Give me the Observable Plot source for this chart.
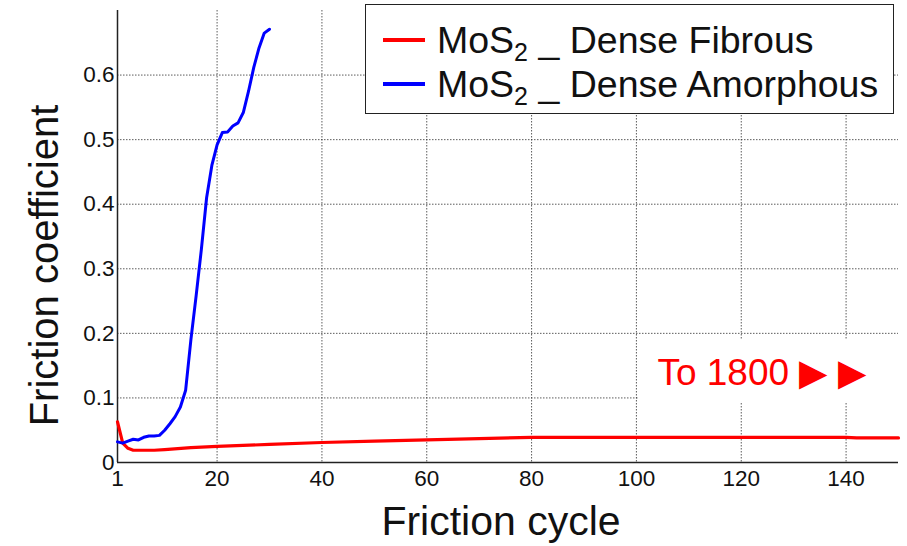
<!DOCTYPE html>
<html>
<head>
<meta charset="utf-8">
<script src="https://cdn.jsdelivr.net/npm/d3@7"></script>
<script src="https://cdn.jsdelivr.net/npm/@observablehq/plot@0.6"></script>
<style>
  html, body { margin: 0; padding: 0; background: white; }
  #wrap { position: relative; width: 907px; height: 546px; font-family: Arial, "Liberation Sans", sans-serif; }
  #legend { position: absolute; left: 365px; top: 4px; width: 529px; height: 110px; background: white;
            border: 1.5px solid #222; box-sizing: border-box; }
  .row { position: absolute; left: 0; height: 40px; display: flex; align-items: center; font-size: 37.5px; color: #111; white-space: nowrap; }
  .sw { display: inline-block; width: 42px; height: 4px; margin-left: 17px; margin-right: 12px; }
  sub { font-size: 25px; vertical-align: -8px; line-height: 0; }
</style>
</head>
<body>
<div id="wrap"></div>
<script>
// Series: MoS2 _ Dense Fibrous (red)
const fibrousCycle = [1, 2, 3, 4, 6, 8, 10, 15, 20, 30, 40, 50, 60, 70, 80, 90, 100, 110, 120, 130, 140, 142, 150];
const fibrousCoef  = [0.063, 0.030, 0.022, 0.019, 0.019, 0.019, 0.020, 0.023, 0.025, 0.028, 0.031, 0.033, 0.035, 0.037, 0.039, 0.039, 0.039, 0.039, 0.039, 0.039, 0.039, 0.038, 0.038];

// Series: MoS2 _ Dense Amorphous (blue)
const amorphousCycle = [1, 2, 3, 4, 5, 6, 7, 8, 9, 10, 11, 12, 13, 14, 15, 16, 17, 18, 19, 20, 21, 22, 23, 24, 25, 26, 27, 28, 29, 30];
const amorphousCoef  = [0.032, 0.030, 0.033, 0.036, 0.035, 0.039, 0.041, 0.041, 0.042, 0.050, 0.060, 0.071, 0.086, 0.112, 0.190, 0.258, 0.330, 0.410, 0.460, 0.492, 0.511, 0.512, 0.521, 0.526, 0.542, 0.575, 0.612, 0.642, 0.665, 0.671];

// Axis ticks
const xTicks = [1, 20, 40, 60, 80, 100, 120, 140];
const xGrid = [20, 40, 60, 80, 100, 120, 140];
const yTicks = [0, 0.1, 0.2, 0.3, 0.4, 0.5, 0.6];
const yGrid = [0.1, 0.2, 0.3, 0.4, 0.5, 0.6];

// Labels
const seriesNames = ["Dense Fibrous", "Dense Amorphous"];
const seriesColors = ["#ff0000", "#0000ff"];
const xLabel = "Friction cycle";
const yLabel = "Friction coefficient";
const noteText = ["To 1800 \u25B6 \u25B6"];
const noteX = [104];
const noteY = [0.139];
const noteBoxX = [100.4, 150];
const noteBoxY = [0.093, 0.19];

const fibrous = fibrousCycle.map((c, i) => ({cycle: c, coef: fibrousCoef[i]}));
const amorphous = amorphousCycle.map((c, i) => ({cycle: c, coef: amorphousCoef[i]}));
const note = noteText.map((t, i) => ({text: t, x: noteX[i], y: noteY[i]}));
const noteBox = [{x1: noteBoxX[0], x2: noteBoxX[1], y1: noteBoxY[0], y2: noteBoxY[1]}];

const chart = Plot.plot({
  width: 907,
  height: 546,
  marginLeft: 117,
  marginRight: 9,
  marginTop: 10,
  marginBottom: 84,
  x: {domain: [1, 150]},
  y: {domain: [0, 0.7]},
  style: {fontFamily: "Arial, 'Liberation Sans', sans-serif", fontSize: "22px", color: "#111", background: "white"},
  marks: [
    Plot.gridX(xGrid, {stroke: "#333", strokeOpacity: 0.8, strokeDasharray: "1.5,1.5"}),
    Plot.gridY(yGrid, {stroke: "#333", strokeOpacity: 0.8, strokeDasharray: "1.5,1.5"}),
    Plot.rect(noteBox, {x1: "x1", x2: "x2", y1: "y1", y2: "y2", fill: "white"}),
    Plot.axisX(xTicks, {tickSize: 0, tickPadding: 8, label: null, fontSize: 22.5}),
    Plot.axisY(yTicks, {tickSize: 0, tickPadding: 3, label: null, fontSize: 22.5, tickFormat: d => d === 0 ? "0" : d.toFixed(1)}),
    Plot.ruleX([1], {stroke: "#222", strokeWidth: 1.5}),
    Plot.ruleY([0], {stroke: "#222", strokeWidth: 1.5}),
    Plot.line(fibrous, {x: "cycle", y: "coef", stroke: seriesColors[0], strokeWidth: 3.2}),
    Plot.line(amorphous, {x: "cycle", y: "coef", stroke: seriesColors[1], strokeWidth: 3}),
    Plot.text(note, {x: "x", y: "y", text: "text", fill: "#ff0000", fontSize: 37, textAnchor: "start"}),
    Plot.text([yLabel], {frameAnchor: "left", textAnchor: "middle", lineAnchor: "middle", rotate: -90, dx: -72, dy: 29, fontSize: 40, fill: "#111"}),
    Plot.text([xLabel], {frameAnchor: "bottom", textAnchor: "middle", lineAnchor: "middle", dx: -7, dy: 59, fontSize: 41, fill: "#111"})
  ]
});

const wrap = document.getElementById("wrap");
wrap.appendChild(chart);

const legend = document.createElement("div");
legend.id = "legend";
seriesNames.forEach((name, i) => {
  const row = document.createElement("div");
  row.className = "row";
  row.style.top = (i === 0 ? 15 : 59) + "px";
  row.innerHTML = `<span class="sw" style="background:${seriesColors[i]}"></span><span>MoS<sub>2</sub> _ ${name}</span>`;
  legend.appendChild(row);
});
wrap.appendChild(legend);
</script>
</body>
</html>
